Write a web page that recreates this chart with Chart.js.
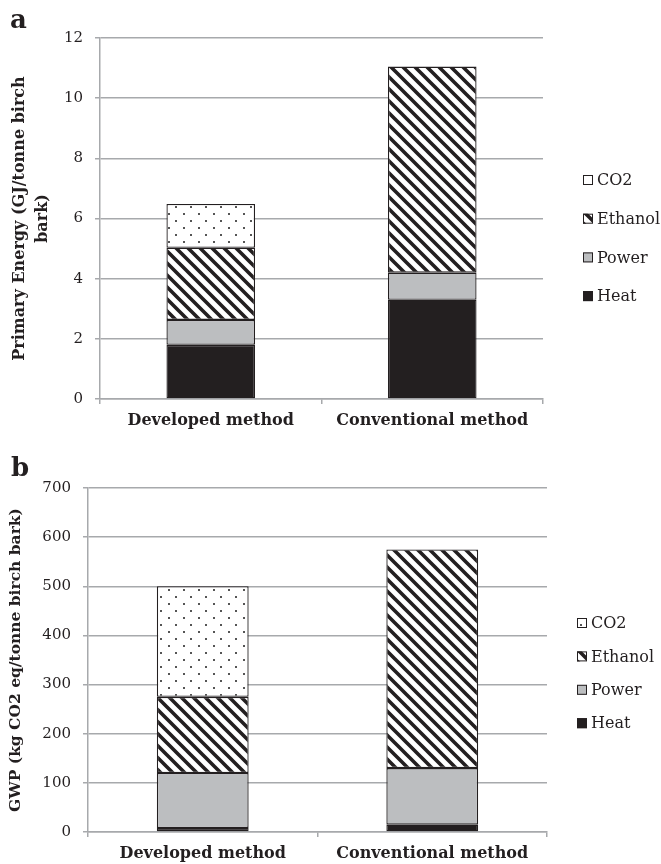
<!DOCTYPE html>
<html>
<head>
<meta charset="utf-8">
<script src="https://cdn.jsdelivr.net/npm/chart.js@4.4.1/dist/chart.umd.min.js"></script>
<style>
  body { margin: 0; background: #fff; }
  .panel { position: absolute; left: 0; width: 661px; height: 432px; }
  .tag { position: absolute; font: bold 26px 'DejaVu Serif', serif; color: #231f20; line-height: 30px; }
</style>
</head>
<body>
<div class="panel" style="top:0"><canvas id="energyChart" width="661" height="432"></canvas></div>
<div class="panel" style="top:432px"><canvas id="gwpChart" width="661" height="432"></canvas></div>
<div class="tag" style="left:10px;top:4px">a</div>
<div class="tag" style="left:11px;top:452px">b</div>
<script>
const categories = ['Developed method', 'Conventional method'];

// panel a: primary energy, GJ/tonne birch bark
const energyHeat = [1.8, 3.3];
const energyPower = [0.83, 0.9];
const energyEthanol = [2.4, 6.85];
const energyCO2 = [1.45, null];

// panel b: GWP, kg CO2 eq/tonne birch bark
const gwpHeat = [8, 15];
const gwpPower = [112, 115];
const gwpEthanol = [155, 445];
const gwpCO2 = [225, null];

const ink = '#231f20';
const gridGray = '#a7a9ac';

function stripePattern() {
  const c = document.createElement('canvas');
  c.width = 12; c.height = 12;
  const g = c.getContext('2d');
  g.fillStyle = '#fff';
  g.fillRect(0, 0, 12, 12);
  g.strokeStyle = ink;
  g.lineWidth = 3.6;
  g.beginPath();
  [-12, 0, 12].forEach(k => { g.moveTo(k - 2, -2); g.lineTo(k + 14, 14); });
  g.stroke();
  return g.createPattern(c, 'repeat');
}

function dotPattern() {
  const c = document.createElement('canvas');
  c.width = 15; c.height = 14;
  const g = c.getContext('2d');
  g.fillStyle = '#fff';
  g.fillRect(0, 0, 15, 14);
  g.fillStyle = '#555';
  g.fillRect(3, 3, 2, 2);
  g.fillRect(10, 10, 2, 2);
  return g.createPattern(c, 'repeat');
}

const stripes = stripePattern();
const dots = dotPattern();

function makeDatasets(heat, power, ethanol, co2) {
  const common = { borderColor: ink, borderWidth: 1.3, borderSkipped: false, barPercentage: 0.4, categoryPercentage: 1 };
  return [
    { label: 'Heat', data: heat, backgroundColor: ink, ...common },
    { label: 'Power', data: power, backgroundColor: '#bcbec0', ...common },
    { label: 'Ethanol', data: ethanol, backgroundColor: stripes, ...common },
    { label: 'CO2', data: co2, backgroundColor: dots, ...common }
  ];
}

// legend drawn at the side, top item first (CO2 .. Heat)
const sideLegend = {
  id: 'sideLegend',
  afterDraw(chart, args, opts) {
    const ctx = chart.ctx;
    ctx.save();
    ctx.font = '16px "DejaVu Serif"';
    ctx.textBaseline = 'middle';
    chart.data.datasets.slice().reverse().forEach((ds, i) => {
      const y = opts.top + i * opts.gap;
      ctx.fillStyle = ds.backgroundColor;
      ctx.fillRect(opts.x, y - 5, 10, 10);
      ctx.strokeStyle = ink;
      ctx.lineWidth = 1;
      ctx.strokeRect(opts.x + 0.5, y - 4.5, 9, 9);
      ctx.fillStyle = ink;
      ctx.fillText(ds.label, opts.x + 14, y + 1);
    });
    ctx.restore();
  }
};

function makeOptions(cfg) {
  return {
    responsive: false,
    animation: false,
    layout: { padding: { top: cfg.top, right: cfg.right, left: 0, bottom: 0 } },
    plugins: {
      legend: { display: false },
      tooltip: { enabled: false },
      sideLegend: cfg.legend
    },
    scales: {
      x: {
        stacked: true,
        afterFit: s => { s.height = cfg.xHeight; },
        grid: { offset: true, drawOnChartArea: false, color: gridGray, lineWidth: 1.5, tickLength: 5 },
        border: { color: gridGray, width: 1.5 },
        ticks: { color: ink, padding: 7, font: { family: 'DejaVu Serif', size: 16, weight: 'bold' } }
      },
      y: {
        stacked: true,
        min: 0,
        max: cfg.max,
        afterFit: s => { s.width = cfg.yWidth; },
        ticks: { stepSize: cfg.step, color: ink, padding: 12, font: { family: 'DejaVu Serif', size: 15 } },
        grid: { color: gridGray, lineWidth: 1.5, tickLength: 5 },
        border: { color: gridGray, width: 1.5 },
        title: {
          display: true,
          text: cfg.title,
          color: ink,
          padding: { top: cfg.titlePad, bottom: 0 },
          font: { family: 'DejaVu Serif', size: cfg.titleSize, weight: 'bold', lineHeight: 1.45 }
        }
      }
    }
  };
}

new Chart(document.getElementById('energyChart'), {
  type: 'bar',
  data: { labels: categories, datasets: makeDatasets(energyHeat, energyPower, energyEthanol, energyCO2) },
  options: makeOptions({
    top: 38, right: 118, xHeight: 33, yWidth: 100, max: 12, step: 2, titlePad: 8, titleSize: 16,
    title: ['Primary Energy (GJ/tonne birch', 'bark)'],
    legend: { x: 583, top: 180, gap: 38.7 }
  }),
  plugins: [sideLegend]
});

new Chart(document.getElementById('gwpChart'), {
  type: 'bar',
  data: { labels: categories, datasets: makeDatasets(gwpHeat, gwpPower, gwpEthanol, gwpCO2) },
  options: makeOptions({
    top: 56, right: 114, xHeight: 32, yWidth: 88, max: 700, step: 100, titlePad: 5, titleSize: 15.5,
    title: 'GWP (kg CO2 eq/tonne birch bark)',
    legend: { x: 577, top: 191, gap: 33.4 }
  }),
  plugins: [sideLegend]
});
</script>
</body>
</html>
